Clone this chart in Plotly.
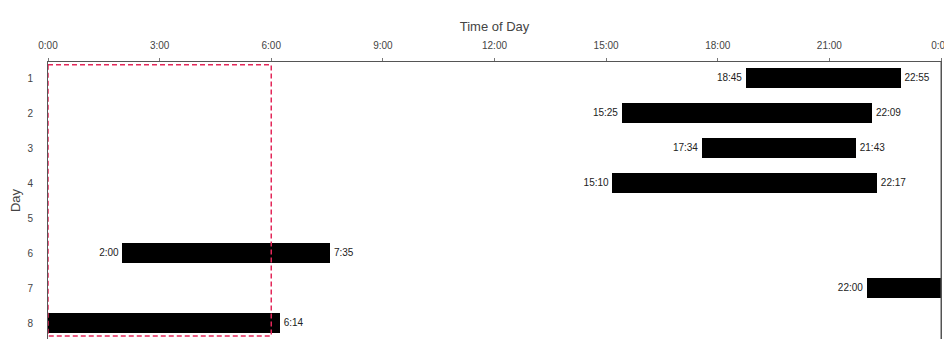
import plotly.graph_objects as go

# ---- data ----
days = [1, 2, 3, 4, 5, 6, 7, 8]
start_times = ["18:45", "15:25", "17:34", "15:10", None, "2:00", "22:00", "0:00"]
end_times = ["22:55", "22:09", "21:43", "22:17", None, "7:35", "24:00", "6:14"]
show_start = [True, True, True, True, False, True, True, False]
show_end = [True, True, True, True, False, True, False, True]
tick_hours = [0, 3, 6, 9, 12, 15, 18, 21, 24]
tick_labels = ["0:00", "3:00", "6:00", "9:00", "12:00", "15:00", "18:00", "21:00", "0:00"]
highlight_start, highlight_end = 0, 6


def to_h(s):
    h, m = s.split(":")
    return int(h) + int(m) / 60


bar_days, bar_base, bar_len = [], [], []
sl_x, sl_y, sl_t = [], [], []
el_x, el_y, el_t = [], [], []
for d, s, e, ss, se in zip(days, start_times, end_times, show_start, show_end):
    if s is None:
        continue
    hs, he = to_h(s), to_h(e)
    bar_days.append(d)
    bar_base.append(hs)
    bar_len.append(he - hs)
    if ss:
        sl_x.append(hs); sl_y.append(d); sl_t.append(s)
    if se:
        el_x.append(he); el_y.append(d); el_t.append(e)

fig = go.Figure()
fig.add_trace(go.Bar(
    y=bar_days, x=bar_len, base=bar_base, orientation="h",
    marker=dict(color="black", line=dict(width=0)), width=0.57,
    showlegend=False, hoverinfo="skip",
))
fig.add_trace(go.Scatter(
    x=[v - 0.1 for v in sl_x], y=sl_y, text=sl_t, mode="text", textposition="middle left",
    textfont=dict(size=10, color="#222", family="Liberation Sans, Arial"),
    showlegend=False, cliponaxis=False,
))
fig.add_trace(go.Scatter(
    x=[v + 0.1 for v in el_x], y=el_y, text=el_t, mode="text", textposition="middle right",
    textfont=dict(size=10, color="#222", family="Liberation Sans, Arial"),
    showlegend=False, cliponaxis=False,
))

fig.add_shape(type="rect", xref="x", yref="y",
              x0=highlight_start, x1=highlight_end, y0=0.62, y1=8.37,
              line=dict(color="#e3285a", width=1.5, dash="5px,3px"), layer="above")
# right frame line
fig.add_shape(type="line", xref="paper", yref="paper", x0=1, x1=1, y0=0, y1=1,
              line=dict(color="#555", width=1), layer="above")

fig.update_layout(
    width=952, height=339,
    margin=dict(l=40, r=19, t=54, b=8),
    paper_bgcolor="white", plot_bgcolor="white",
    font=dict(family="Liberation Sans, Arial", color="#444"),
    bargap=0,
)
fig.update_xaxes(
    side="top", range=[0, 24], tickvals=tick_hours, ticktext=tick_labels,
    showgrid=False, zeroline=False, showline=True, linecolor="#555", linewidth=1,
    ticks="outside", ticklen=3, tickcolor="#777", tickfont=dict(size=10, color="#444"),
    ticklabelstandoff=5, automargin=False,
    title=dict(text="Time of Day", font=dict(size=13, color="#444"), standoff=5),
)
fig.update_yaxes(
    range=[8.457, 0.543], tickvals=days, ticktext=[str(d) for d in days],
    showgrid=False, zeroline=False, showline=True, linecolor="#555", linewidth=1, mirror=True,
    ticks="", tickfont=dict(size=10, color="#444"), ticklabelstandoff=12, automargin=False,
    title=dict(text="Day", font=dict(size=13, color="#444"), standoff=4),
)

fig.write_html("out.html")
